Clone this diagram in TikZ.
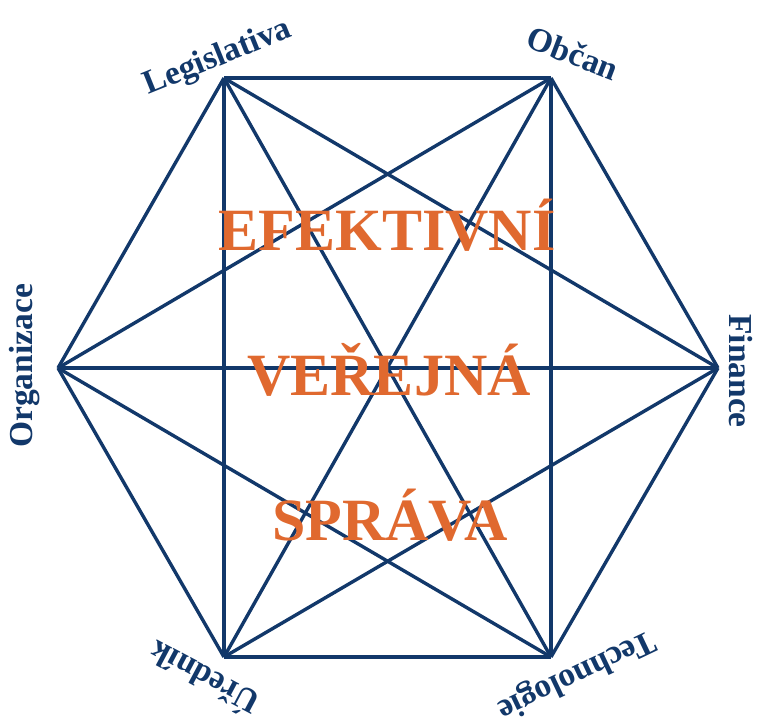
\documentclass[tikz,border=0pt]{standalone}
\usepackage{fontspec}
\setmainfont{Liberation Serif}
\definecolor{navy}{HTML}{12386A}
\definecolor{orng}{HTML}{E0692F}
\tikzset{
  edge/.style={draw=navy, line width=3.4pt, line join=miter},
  lbl/.style={text=navy, font=\bfseries\fontsize{33.5}{34}\selectfont, inner sep=0pt},
  big/.style={text=orng, font=\bfseries\fontsize{60}{60}\selectfont, inner sep=0pt}
}
\begin{document}
\begin{tikzpicture}[x=1pt,y=-1pt]
\useasboundingbox (0,0) rectangle (757,720);
\coordinate (L) at (224,78);
\coordinate (O) at (551,78);
\coordinate (F) at (718,368);
\coordinate (T) at (551,657);
\coordinate (U) at (224,657);
\coordinate (G) at (58,368);
\foreach \a/\b in {L/O,O/F,F/T,T/U,U/G,G/L,L/U,O/T,L/T,O/U,L/F,G/O,G/F,G/T,U/F}
  \draw[edge] (\a) -- (\b);
\node[big] (e1) at (387,225) {EFEKTIVNÍ};
\node[big] (e2) at (389,370) {VEŘEJNÁ};
\node[big] (e3) at (390,515) {SPRÁVA};
\node[lbl, rotate=22] (nL) at (218,58) {Legislativa};
\node[lbl, rotate=-21] (nO) at (573,53) {Občan};
\node[lbl, rotate=-90] (nF) at (741,371) {Finance};
\node[lbl, rotate=90] (nG) at (25,366) {Organizace};
\node[lbl, rotate=152] (nU) at (203,680) {Úředník};
\node[lbl, rotate=-154.5] (nT) at (576,674) {Technologie};
\end{tikzpicture}
\end{document}
